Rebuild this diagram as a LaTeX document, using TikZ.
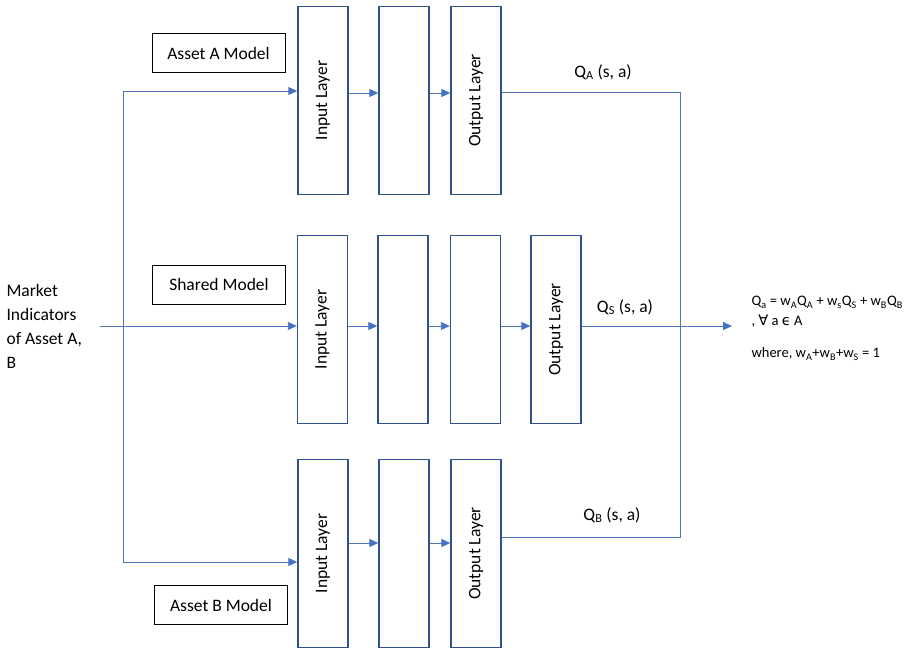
\documentclass[tikz,border=0pt]{standalone}
\usepackage{fontspec}
\setmainfont{Carlito}
\newfontfamily\symfont{DejaVu Sans}
\usetikzlibrary{arrows.meta}
\definecolor{boxblue}{HTML}{2F528F}
\definecolor{lineblue}{HTML}{4472C4}

\begin{document}
\begin{tikzpicture}[x=1pt,y=-1pt,
		font=\fontsize{17.5}{21}\selectfont,
		layer/.style = {draw=boxblue,line width=1.4pt,minimum width=50pt,minimum height=188pt,inner sep=0pt},
		model/.style = {draw=black,line width=0.8pt,minimum width=133pt,minimum height=39pt},
		wire/.style = {draw=lineblue!80!gray,line width=0.9pt},
		flow/.style = {wire,-{Triangle[length=9pt,width=8pt,color=lineblue]}}]
			\useasboundingbox (0,0) rectangle (909,650);
			% asset A network
			\node[layer] at (323,100.5) (inA) {\rotatebox{90}{Input Layer}};
			\node[layer] at (404,100.5) (hidA) {};
			\node[layer] at (476,100.5) (outA) {\rotatebox{90}{Output Layer}};
			\node[model] at (218.5,53) (modA) {Asset A Model};
			% shared network
			\node[layer] at (322.5,329.5) (inS) {\rotatebox{90}{Input Layer}};
			\node[layer] at (403,329.5) (hidSa) {};
			\node[layer] at (475.5,329.5) (hidSb) {};
			\node[layer] at (556,329.5) (outS) {\rotatebox{90}{Output Layer}};
			\node[model] at (219,284.5) (modS) {Shared Model};
			% asset B network
			\node[layer] at (323,553.5) (inB) {\rotatebox{90}{Input Layer}};
			\node[layer] at (404,553.5) (hidB) {};
			\node[layer] at (476,553.5) (outB) {\rotatebox{90}{Output Layer}};
			\node[model] at (221,605) (modB) {Asset B Model};
			% inputs
			\node[anchor=west,align=left,font=\fontsize{17.5}{24}\selectfont] at (3,326) (market) {Market\\Indicators\\of Asset A,\\B};
			\coordinate (feed) at (100,326);
			\coordinate (splitA) at (123,91);
			\coordinate (splitB) at (123,562);
			\draw[flow] (feed) -- (inS.west |- feed);
			\draw[wire] (splitA) -- (splitB);
			\draw[flow] (splitA) -- (inA.west |- splitA);
			\draw[flow] (splitB) -- (inB.west |- splitB);
			% layer to layer
			\draw[flow] ([yshift=7.5pt]inA.east) -- ([yshift=7.5pt]hidA.west);
			\draw[flow] ([yshift=7.5pt]hidA.east) -- ([yshift=7.5pt]outA.west);
			\draw[flow] ([yshift=3.5pt]inS.east) -- ([yshift=3.5pt]hidSa.west);
			\draw[flow] ([yshift=3.5pt]hidSa.east) -- ([yshift=3.5pt]hidSb.west);
			\draw[flow] ([yshift=3.5pt]hidSb.east) -- ([yshift=3.5pt]outS.west);
			\draw[flow] ([yshift=10.5pt]inB.east) -- ([yshift=10.5pt]hidB.west);
			\draw[flow] ([yshift=10.5pt]hidB.east) -- ([yshift=10.5pt]outB.west);
			% outputs
			\coordinate (mergeA) at (680,92);
			\coordinate (mergeB) at (680,537);
			\coordinate (qout) at (732,326);
			\draw[wire] (outA.east |- mergeA) -- (mergeA) -- (mergeB) -- (outB.east |- mergeB);
			\draw[flow] (outS.east |- qout) -- (qout);
			\node at (603,72) (qA) {Q\textsubscript{A} (s, a)};
			\node at (625,307) (qS) {Q\textsubscript{S} (s, a)};
			\node at (612,515) (qB) {Q\textsubscript{B} (s, a)};
			\node[anchor=north west,align=left,font=\fontsize{14.5}{20}\selectfont] at (748,293) (rule) {Q\textsubscript{a} = w\textsubscript{A}Q\textsubscript{A} + w\textsubscript{s}Q\textsubscript{S} + w\textsubscript{B}Q\textsubscript{B}\\ , {\symfont ∀} a {\symfont ϵ} A\\[12pt] where, w\textsubscript{A}+w\textsubscript{B}+w\textsubscript{S} = 1};
		\end{tikzpicture}
\end{document}
